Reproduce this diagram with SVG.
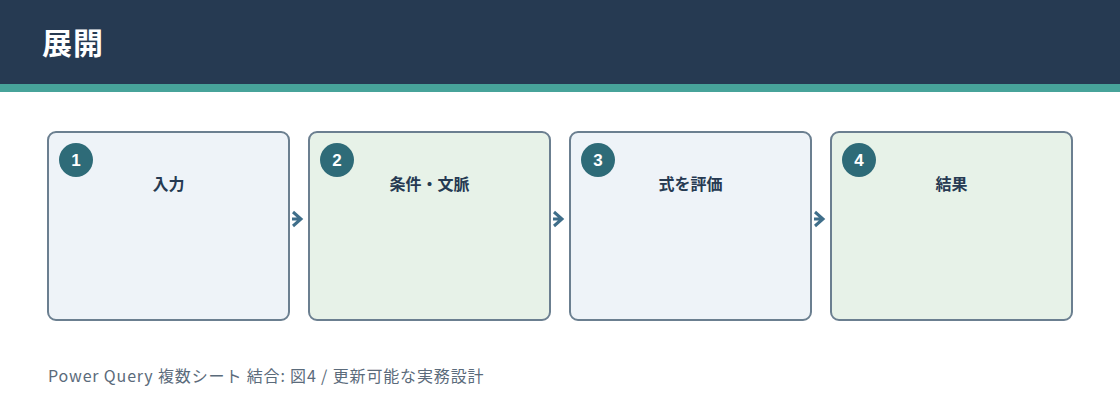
<svg xmlns="http://www.w3.org/2000/svg" width="1120" height="420" viewBox="0 0 1120 420">
<style>
.box{stroke:#6B7F90;stroke-width:2}
.b1{fill:#EEF3F8}
.b2{fill:#E7F2E8}
.num{fill:#2E6B78}
.nt{fill:#FFFFFF;font-family:"Liberation Sans","Noto Sans CJK JP",sans-serif;font-size:17px;font-weight:bold;text-anchor:middle}
.lbl{fill:#263A52;font-family:"Noto Sans CJK JP",sans-serif;font-size:16px;font-weight:bold;text-anchor:middle}
.conn{stroke:#3F6E8A;stroke-width:3;fill:none}
</style>
<rect x="0" y="0" width="1120" height="84" fill="#263A52"/>
<rect x="0" y="84" width="1120" height="8" fill="#47A39A"/>
<text x="42" y="54" fill="#FFFFFF" font-family="'Noto Sans CJK JP',sans-serif" font-size="30" font-weight="bold" letter-spacing="1">展開</text>
<g id="node1">
<rect class="box b1" x="48" y="132" width="241" height="188" rx="8"/>
<circle class="num" cx="76" cy="160" r="17"/>
<text class="nt" x="76" y="166">1</text>
<text class="lbl" x="168.5" y="190">入力</text>
</g>
<g id="node2">
<rect class="box b2" x="309" y="132" width="241" height="188" rx="8"/>
<circle class="num" cx="337" cy="160" r="17"/>
<text class="nt" x="337" y="166">2</text>
<text class="lbl" x="429.5" y="190">条件・文脈</text>
</g>
<g id="node3">
<rect class="box b1" x="570" y="132" width="241" height="188" rx="8"/>
<circle class="num" cx="598" cy="160" r="17"/>
<text class="nt" x="598" y="166">3</text>
<text class="lbl" x="690.5" y="190">式を評価</text>
</g>
<g id="node4">
<rect class="box b2" x="831" y="132" width="241" height="188" rx="8"/>
<circle class="num" cx="859" cy="160" r="17"/>
<text class="nt" x="859" y="166">4</text>
<text class="lbl" x="951.5" y="190">結果</text>
</g>
<g id="connectors">
<path class="conn" d="M292,219 H300 M293,212 L301,219 L293,226"/>
<path class="conn" d="M553,219 H561 M554,212 L562,219 L554,226"/>
<path class="conn" d="M814,219 H822 M815,212 L823,219 L815,226"/>
</g>
<text x="48" y="382" fill="#5B6B7B" font-family="'Noto Sans CJK JP',sans-serif" font-size="16" letter-spacing="0.85">Power Query 複数シート 結合: 図4 / 更新可能な実務設計</text>
</svg>
